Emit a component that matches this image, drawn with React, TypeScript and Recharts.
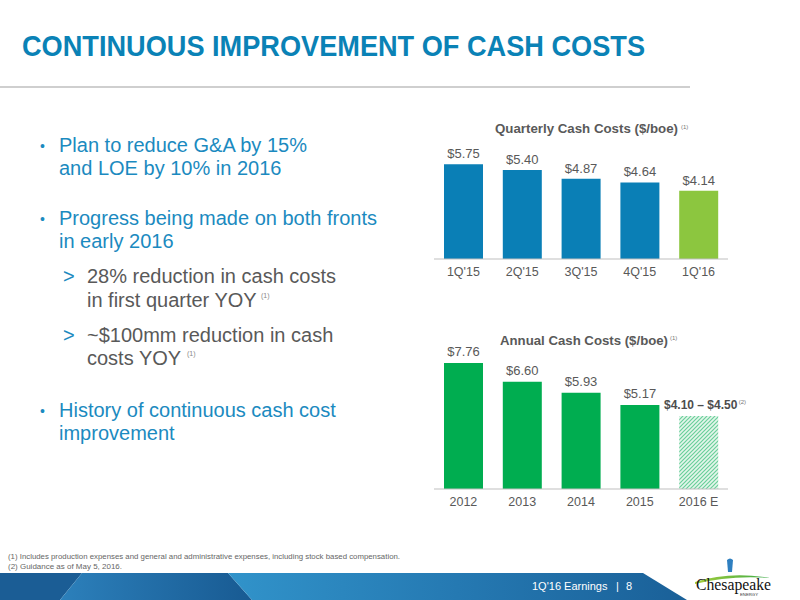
import React from 'react';
import { BarChart, Bar, XAxis, YAxis, Cell, LabelList } from 'recharts';

const quarters = ["1Q'15", "2Q'15", "3Q'15", "4Q'15", "1Q'16"];
const quarterlyCosts = [5.75, 5.4, 4.87, 4.64, 4.14];
const quarterlyColors = ['#0A7FB6', '#0A7FB6', '#0A7FB6', '#0A7FB6', '#8CC63F'];

const years = ['2012', '2013', '2014', '2015', '2016 E'];
const annualCosts = [7.76, 6.6, 5.93, 5.17, 4.5];
const annualLabels = ['$7.76', '$6.60', '$5.93', '$5.17', '$4.10 – $4.50'];
const annualColors = ['#00AD50', '#00AD50', '#00AD50', '#00AD50', 'url(#hatch2016)'];

const quarterlyData = quarters.map((q, i) => ({ name: q, cost: quarterlyCosts[i] }));
const annualData = years.map((y, i) => ({ name: y, cost: annualCosts[i] }));

const FONT = '"Liberation Sans", Arial, Helvetica, sans-serif';
const BLUE_TEXT = '#1B8AC0';
const GRAY_TEXT = '#595959';

const renderAnnualLabel = (props: any) => {
  const { x, y, width, value } = props;
  let index = props.index;
  if (index === undefined || index === null) index = annualCosts.indexOf(Number(value));
  const cx = Number(x) + Number(width) / 2;
  if (index === 4) {
    return (
      <g>
        <text x={cx + 2} y={Number(y) - 6.5} textAnchor="middle" fontSize={12} fontWeight="bold" fill="#4D4D4D" fontFamily={FONT}>
          {annualLabels[4]}
        </text>
        <text x={cx + 40} y={Number(y) - 12} fontSize={6} fill="#777" fontFamily={FONT}>(2)</text>
      </g>
    );
  }
  return (
    <text x={cx} y={Number(y) - 7} textAnchor="middle" fontSize={13} fill={GRAY_TEXT} fontFamily={FONT}>
      {annualLabels[index]}
    </text>
  );
};

export default function App() {
  return (
    <div style={{ position: 'absolute', left: 0, top: 0, width: 800, height: 600, background: '#fff', overflow: 'hidden', fontFamily: FONT }}>
      <svg width={0} height={0} style={{ position: 'absolute' }}>
        <defs>
          <pattern id="hatch2016" patternUnits="userSpaceOnUse" width="4" height="4">
            <rect width="4" height="4" fill="#E4F6EB" />
            <path d="M-1,1 l2,-2 M0,4 l4,-4 M3,5 l2,-2" stroke="#6ACF9A" strokeWidth="1.2" />
          </pattern>
          <linearGradient id="footMid" x1="0" y1="0" x2="1" y2="0">
            <stop offset="0" stopColor="#2C80BB" />
            <stop offset="1" stopColor="#185A92" />
          </linearGradient>
          <linearGradient id="footRight" x1="0" y1="0" x2="1" y2="0">
            <stop offset="0" stopColor="#3193CA" />
            <stop offset="0.5" stopColor="#2579B2" />
            <stop offset="1" stopColor="#1A6098" />
          </linearGradient>
          <linearGradient id="swoosh" x1="0" y1="0" x2="1" y2="0">
            <stop offset="0" stopColor="#A6CE39" />
            <stop offset="1" stopColor="#3BAA48" />
          </linearGradient>
        </defs>
      </svg>

      {/* slide text and decoration */}
      <svg width={800} height={600} style={{ position: 'absolute', left: 0, top: 0 }} fontFamily={FONT}>
        <text x={22} y={56} fontSize={30} fontWeight="bold" fill="#0A82B6" textLength={623} lengthAdjust="spacingAndGlyphs"
          fontFamily='"Liberation Sans Narrow", "Liberation Sans", Arial, sans-serif'>
          CONTINUOUS IMPROVEMENT OF CASH COSTS
        </text>
        <rect x={0} y={86} width={690} height={2} fill="#CFCFCF" />

        <g fontSize={20} fill={BLUE_TEXT}>
          <text x={40} y={151} fontSize={14}>•</text>
          <text x={59} y={152}>Plan to reduce G&amp;A by 15%</text>
          <text x={59} y={175}>and LOE by 10% in 2016</text>
          <text x={40} y={224} fontSize={14}>•</text>
          <text x={59} y={225}>Progress being made on both fronts</text>
          <text x={59} y={248}>in early 2016</text>
          <text x={63} y={283}>&gt;</text>
          <text x={87} y={283} fill={GRAY_TEXT}>28% reduction in cash costs</text>
          <text x={87} y={307} fill={GRAY_TEXT}>in first quarter YOY</text>
          <text x={261} y={298} fontSize={7} fill="#888">(1)</text>
          <text x={63} y={342}>&gt;</text>
          <text x={87} y={342} fill={GRAY_TEXT}>~$100mm reduction in cash</text>
          <text x={87} y={365} fill={GRAY_TEXT}>costs YOY</text>
          <text x={187} y={356} fontSize={7} fill="#888">(1)</text>
          <text x={40} y={416} fontSize={14}>•</text>
          <text x={59} y={417}>History of continuous cash cost</text>
          <text x={59} y={440}>improvement</text>
        </g>

        <text x={495} y={133} fontSize={12.5} fontWeight="bold" fill={GRAY_TEXT} textLength={183} lengthAdjust="spacingAndGlyphs">Quarterly Cash Costs ($/boe)</text>
        <text x={681} y={129} fontSize={6} fill="#777">(1)</text>
        <text x={500} y={345} fontSize={12.5} fontWeight="bold" fill={GRAY_TEXT} textLength={168} lengthAdjust="spacingAndGlyphs">Annual Cash Costs ($/boe)</text>
        <text x={670} y={340} fontSize={6} fill="#777">(1)</text>

        <text x={8} y={558.5} fontSize={7.5} fill="#666" textLength={392} lengthAdjust="spacingAndGlyphs">(1)  Includes production expenses and general and administrative expenses, including stock based compensation.</text>
        <text x={8} y={569} fontSize={7.5} fill="#666" textLength={114} lengthAdjust="spacingAndGlyphs">(2)  Guidance as of May 5, 2016.</text>

        {/* footer bar */}
        <polygon points="0,573 82,573 60,600 0,600" fill="#1B5D95" />
        <polygon points="82,573 228,573 252,600 60,600" fill="url(#footMid)" />
        <polygon points="228,573 643,573 687,600 252,600" fill="url(#footRight)" />
        <text x={532} y={590} fontSize={11} fill="#FFFFFF">1Q'16 Earnings</text>
        <text x={616} y={590} fontSize={11} fill="#FFFFFF">|</text>
        <text x={626} y={590} fontSize={11} fill="#FFFFFF">8</text>

        {/* logo */}
        <path d="M727,560 q3,-3 6,0 l-1,12 l-4,0 z" fill="#2E7FC0" />
        <path d="M695,582 Q730,571 770,578 Q730,575 695,584 z" fill="url(#swoosh)" />
        <text x={696} y={590} fontSize={16} fill="#111" textLength={75} lengthAdjust="spacingAndGlyphs"
          fontFamily='"Liberation Serif", "Times New Roman", serif'>Chesapeake</text>
        <text x={740} y={596} fontSize={4} fill="#333" textLength={18} lengthAdjust="spacingAndGlyphs">ENERGY</text>
      </svg>

      {/* quarterly chart */}
      <div style={{ position: 'absolute', left: 420, top: 140 }}>
        <BarChart width={320} height={150} data={quarterlyData} margin={{ top: 20, right: 12, left: 14, bottom: 6 }}>
          <XAxis dataKey="name" height={25} axisLine={{ stroke: '#BFBFBF' }} tickLine={false}
            tick={{ fill: GRAY_TEXT, fontSize: 12.5, fontFamily: FONT }} interval={0} />
          <YAxis hide domain={[0, 6]} />
          <Bar dataKey="cost" barSize={39} isAnimationActive={false}>
            {quarterlyData.map((d, i) => (
              <Cell key={d.name} fill={quarterlyColors[i]} />
            ))}
            <LabelList dataKey="cost" position="top" offset={6} fill={GRAY_TEXT} fontSize={13} fontFamily={FONT}
              formatter={(v: any) => `$${Number(v).toFixed(2)}`} />
          </Bar>
        </BarChart>
      </div>

      {/* annual chart */}
      <div style={{ position: 'absolute', left: 420, top: 339 }}>
        <BarChart width={350} height={180} data={annualData} margin={{ top: 20, right: 42, left: 14, bottom: 5 }}>
          <XAxis dataKey="name" height={25} axisLine={{ stroke: '#BFBFBF' }} tickLine={false}
            tick={{ fill: GRAY_TEXT, fontSize: 12.5, fontFamily: FONT }} interval={0} />
          <YAxis hide domain={[0, 8]} />
          <Bar dataKey="cost" barSize={39} isAnimationActive={false} label={renderAnnualLabel}>
            {annualData.map((d, i) => (
              <Cell key={d.name} fill={annualColors[i]} />
            ))}
          </Bar>
        </BarChart>
      </div>
    </div>
  );
}
